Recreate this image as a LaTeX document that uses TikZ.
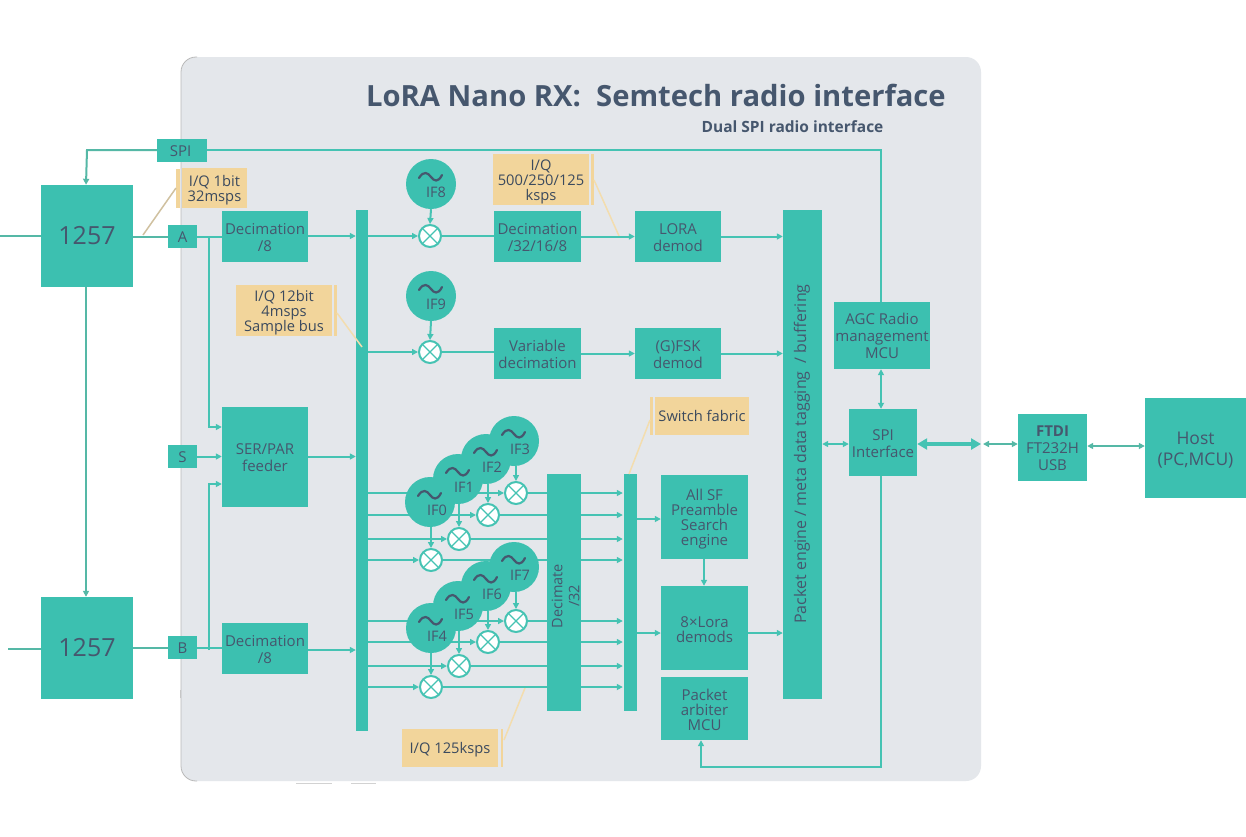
\documentclass[tikz,border=0pt]{standalone}
\usepackage{fontspec}
\setmainfont{Open Sans}
\usetikzlibrary{arrows.meta,calc}
\definecolor{teal}{HTML}{3CC0B0}
\definecolor{ink}{HTML}{46576E}
\definecolor{panelc}{HTML}{E4E7EB}
\definecolor{wire}{HTML}{45C3B3}
\definecolor{wireout}{HTML}{55B8A6}
\definecolor{tan}{HTML}{F2D59B}
\definecolor{tanline}{HTML}{F3DDAE}
\newcommand{\fsz}[2]{\fontsize{#1}{#2}\selectfont}
\tikzset{
  box/.style={fill=teal,draw=none,inner sep=0pt,text=ink,align=center,font=\fsz{15}{17}},
  tight/.style={box,font=\fsz{15}{15.3}},
  big/.style={box,font=\fsz{25}{28}},
  hostbox/.style={box,font=\fsz{17.5}{21}},
  note/.style={fill=tan,draw=none,inner sep=0pt,text=ink!85!black,align=center,font=\fsz{14.7}{15.3}},
  noterule/.style={fill=tan,draw=none,inner sep=0pt},
  lead/.style={draw=tanline,line width=1.5pt},
  wr/.style={draw=wire,line width=2pt},
  wra/.style={wr,-{Triangle[length=6pt,width=6pt]}},
  wrb/.style={wr,{Triangle[length=6pt,width=6pt]}-{Triangle[length=6pt,width=6pt]}},
  wo/.style={draw=wireout,line width=2pt},
  woa/.style={wo,-{Triangle[length=6pt,width=6pt]}},
  wob/.style={wo,{Triangle[length=6pt,width=6pt]}-{Triangle[length=6pt,width=6pt]}},
  osccirc/.style={circle,fill=teal,draw=none,minimum size=50pt,inner sep=0pt},
  osctxt/.style={inner sep=0pt,text=ink,font=\fsz{14.5}{15}},
  mix/.style={circle,fill=white,draw=wire,line width=2pt,minimum size=22pt,inner sep=0pt,
    path picture={\draw[wire,line width=1.2pt]
      (path picture bounding box.north west)--(path picture bounding box.south east)
      (path picture bounding box.north east)--(path picture bounding box.south west);}},
}
% \bx[style]{name}{x1}{y1}{x2}{y2}{text}
\newcommand{\bx}[7][box]{\node[#1,minimum width={(#5)-(#3)},minimum height={(#6)-(#4)}] (#2) at ({((#3)+(#5))/2},{((#4)+(#6))/2}) {\rule{0pt}{1.05em}#7\rule[-0.25em]{0pt}{0pt}};}
% \osc{name}{x}{y}{label}{label dx}
\newcommand{\osc}[5]{%
  \node[osccirc] (#1) at (#2,#3) {};
  \draw[ink,line width=2.2pt,line cap=round]
    ({#2-12},{#3-6}) .. controls ({#2-7},{#3-14}) and ({#2-3},{#3-11}) .. ({#2},{#3-7})
    .. controls ({#2+3},{#3-3}) and ({#2+7},{#3-1}) .. ({#2+11},{#3-9});
  \node[osctxt] (#1l) at ({#2+#5},{#3+8}) {#4};}
\begin{document}
\begin{tikzpicture}[x=1pt,y=-1pt]
\useasboundingbox (0,0) rectangle (1246,836);
\fill[white] (0,0) rectangle (1246,836);
\fill[panelc,rounded corners=15pt] (181,57) rectangle (981,781);
\draw[gray!55,line width=0.8pt,rounded corners=15pt] (197,57) -- (181,57) -- (181,781) -- (197,781);
\draw[gray!45,line width=1pt] (180,698) -- (180,690);
\draw[gray!35,line width=1pt] (296,783) -- (332,783);
\draw[gray!35,line width=1pt] (351,783) -- (376,783);

\node[inner sep=0pt,anchor=east,text=ink,font=\bfseries\fsz{29.2}{32}] (title) at (946,96) {LoRA Nano RX:\ \ Semtech radio interface};
\node[inner sep=0pt,anchor=center,text=ink,font=\bfseries\fsz{15.5}{16}] (subtitle) at (792.5,126.5) {Dual SPI radio interface};

% main boxes
\bx[big]{ra}{41}{185}{133}{287}{\raisebox{2pt}{1257}}
\bx[big]{rb}{41}{597}{133}{699}{\raisebox{2pt}{1257}}
\bx{spi}{157}{139}{207}{162}{SPI\hspace{3pt}}
\bx{pa}{168}{225}{197}{248}{A}
\bx{ps}{168}{445}{197}{468}{S}
\bx{pb}{168}{636}{197}{659}{B}
\bx{deca}{222}{211}{308}{262}{Decimation\\/8}
\bx{ser}{222}{407}{308}{507}{SER/PAR\\feeder}
\bx{decb}{222}{623}{308}{674}{Decimation\\/8}
\bx{samp}{356}{210}{368}{731}{}
\bx{dec8}{494}{211}{581}{262}{Decimation\\/32/16/8}
\bx{lora}{635}{211}{721}{262}{LORA\\demod}
\bx{vard}{494}{328}{581}{379}{Variable\\decimation}
\bx{fsk}{635}{328}{721}{379}{(G)FSK\\demod}
\bx{dec32}{547}{474}{581}{711}{}
\node[inner sep=0pt,text=ink,rotate=90,align=center,font=\fsz{14.5}{17}] (dec32t) at (565.5,596) {Decimate\\/32};
\bx{fab}{624}{474}{637}{711}{}
\bx[tight]{sf}{661}{475}{748}{559}{All SF\\Preamble\\Search\\engine}
\bx[tight]{lds}{661}{586}{748}{670}{\rule{0pt}{1.2em}8×Lora\\demods}
\bx[tight]{arb}{661}{677}{748}{740}{\rule{0pt}{1.2em}Packet\\arbiter\\MCU}
\bx{pkt}{783}{210}{822}{699}{}
\node[inner sep=0pt,text=ink,rotate=90,font=\fsz{16}{17}] (pktt) at (802,454) {Packet engine / meta data tagging\ \ / buffering};
\bx{agc}{834}{302}{930}{369}{AGC Radio\\management\\MCU}
\bx{spii}{849}{409}{917}{476}{SPI\\Interface}
\bx{ftdi}{1018}{414}{1087}{481}{\textbf{FTDI}\\FT232H\\USB}
\bx[hostbox]{host}{1145}{398}{1246}{498}{Host\\(PC,MCU)}

% notes
\bx[note]{n1}{182}{168}{247}{208}{I/Q 1bit\\32msps}
\bx[noterule]{n1r}{176}{169}{179.5}{208}{}
\bx[note]{n2}{236}{285}{332}{336}{I/Q 12bit\\4msps\\Sample bus}
\bx[noterule]{n2r}{334}{285}{337}{336}{}
\bx[note]{n3}{493}{154}{589}{205}{I/Q\\500/250/125\\ksps}
\bx[noterule]{n3r}{591}{154}{594}{205}{}
\bx[note]{n4}{655}{397}{749}{435}{Switch fabric}
\bx[noterule]{n4r}{650}{397}{653}{435}{}
\bx[note]{n5}{402}{729}{498}{767}{I/Q 125ksps}
\bx[noterule]{n5r}{501}{729}{503}{767}{}

% free ends
\coordinate (ina) at (0,236);
\coordinate (inb) at (8,649);
\coordinate (n1a) at (143,235);
\coordinate (n1b) at (176,188);
\coordinate (n2a) at (337,313);
\coordinate (n2b) at (362,347);
\coordinate (n3a) at (594,180);
\coordinate (n3b) at (619,236);
\coordinate (n4a) at (650,420);
\coordinate (n4b) at (629,474);
\coordinate (n5a) at (504,740);
\coordinate (n5b) at (525,688);
\coordinate (ja) at (209,236);
\coordinate (jb) at (209,650);
\coordinate (sera) at (ser.west |- 0,427);
\coordinate (serb) at (ser.west |- 0,484);
\coordinate (spk) at (881,150);
\coordinate (spl) at (86,150);
\coordinate (arbc) at (881,767);
\coordinate (arbd) at (701,767);

% outside wires
\draw[wo] (ina) -- (ra.west |- ina);
\draw[wo] (inb) -- (rb.west |- inb);
\draw[wo] (ra.east |- pa) -- (pa.west);
\draw[wo] (rb.east |- pb) -- (pb.west);
\draw[woa] (spi.west |- spl) -- (spl) -- (spl -| ra.north) -- (ra.north -| spl);
\draw[woa] (ra.south -| spl) -- (rb.north -| spl);
\draw[lead,draw=tanline!70!gray] (n1a) -- (n1b);
\draw[lead] (n2a) -- (n2b);
\draw[lead] (n3a) -- (n3b);
\draw[lead] (n4a) -- (n4b);
\draw[lead] (n5a) -- (n5b);

% top level wires
\draw[wr] (spi.east |- spk) -- (spk) -- (agc.north -| spk);
\draw[wr] (pa.east) -- (deca.west |- pa);
\draw[wra] (deca.east |- ja) -- (samp.west |- ja);
\draw[wra] (jb -| decb.east) -- (samp.west |- jb);
\draw[wr] (pb.east) -- (decb.west |- pb);
\draw[wra] (ps.east) -- (ser.west |- ps);
\draw[wra] (ser.east |- ps) -- (samp.west |- ps);
\draw[wra] (ja) -- (ja |- sera) -- (sera);
\draw[wra] (jb) -- (jb |- serb) -- (serb);

% mixers
\node[mix] (m8) at (430,236) {};
\node[mix] (m9) at (430,352) {};
\node[mix] (m0) at (431,560) {};
\node[mix] (m1) at (459,539) {};
\node[mix] (m2) at (488,515) {};
\node[mix] (m3) at (516,493) {};
\node[mix] (m4) at (431,687) {};
\node[mix] (m5) at (459,666) {};
\node[mix] (m6) at (488,642) {};
\node[mix] (m7) at (516,621) {};

\foreach \m in {m0,m1,m2,m3,m4,m5,m6,m7,m8,m9}{
  \draw[wra] (samp.east |- \m) -- (\m.west);
}
\foreach \m in {m0,m1,m2,m3,m4,m5,m6,m7}{
  \draw[wr] (\m.east) -- (dec32.west |- \m);
  \draw[wra] (dec32.east |- \m) -- ($(fab.west |- \m)+(-1,0)$);
}
\draw[wr] (m8.east) -- (dec8.west |- m8);
\draw[wr] (m9.east) -- (vard.west |- m9);
\draw[wra] (dec8.east |- lora) -- (lora.west);
\draw[wra] (vard.east |- fsk) -- (fsk.west);
\draw[wra] (lora.east) -- (pkt.west |- lora);
\draw[wra] (fsk.east) -- (pkt.west |- fsk);
\draw[wra] (fab.east |- 0,519) -- (sf.west |- 0,519);
\draw[wra] (fab.east |- 0,633) -- (lds.west |- 0,633);
\draw[wra] (lds.east |- 0,633) -- (pkt.west |- 0,633);
\draw[wra] (sf.south -| 704,0) -- (lds.north -| 704,0);
\draw[wra] (spii.south -| arbc) -- (arbc) -- (arbd) -- (arb.south -| arbd);
\draw[wrb] (agc.south -| 881,0) -- (spii.north -| 881,0);
\draw[wrb] (pkt.east |- 0,444) -- (spii.west |- 0,444);
\draw[wr,line width=3.5pt,{Triangle[length=10pt,width=11pt]}-{Triangle[length=10pt,width=11pt]}] (spii.east |- 0,444) -- (981,444);
\draw[wob] (983,444) -- (ftdi.west |- 0,444);
\draw[wob] (ftdi.east |- 0,446) -- (host.west |- 0,446);

% oscillators
\osc{if8}{431}{184}{IF8}{5}
\osc{if9}{431}{296}{IF9}{5}
\osc{if3}{514}{441}{IF3}{6}
\osc{if2}{486}{459}{IF2}{6}
\osc{if1}{458}{479}{IF1}{6}
\osc{if0}{430}{502}{IF0}{7}
\osc{if7}{514}{567}{IF7}{6}
\osc{if6}{486}{586}{IF6}{6}
\osc{if5}{458}{606}{IF5}{6}
\osc{if4}{431}{628}{IF4}{6}
\foreach \o/\m in {if8/m8,if9/m9}{\draw[wra] (\o.south) -- (\m.north);}
\draw[wra] (m0.north |- if0.south) -- (m0.north);
\draw[wra] (m1.north |- if1.south) -- (m1.north);
\draw[wra] (m2.north |- if2.south) -- (m2.north);
\draw[wra] (m3.north |- if3.south) -- (m3.north);
\draw[wra] (m4.north |- if4.south) -- (m4.north);
\draw[wra] (m5.north |- if5.south) -- (m5.north);
\draw[wra] (m6.north |- if6.south) -- (m6.north);
\draw[wra] (m7.north |- if7.south) -- (m7.north);
\end{tikzpicture}
\end{document}
